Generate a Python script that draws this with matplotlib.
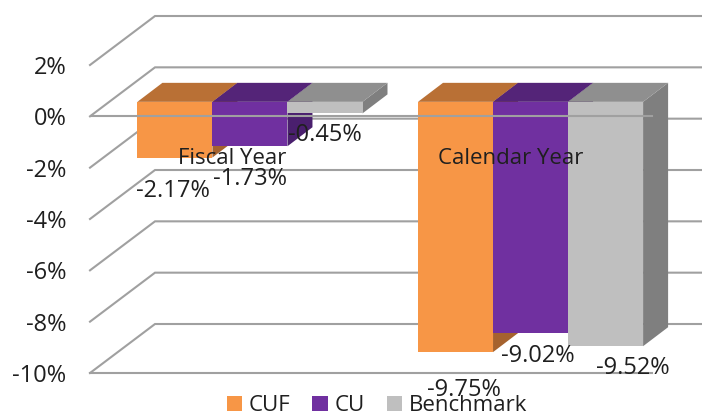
#!/usr/bin/env python

import matplotlib
matplotlib.use('Agg')
import matplotlib.pyplot as plt
import numpy as np

# data to plot
categories = ['Fiscal Year', 'Calendar Year']
series_names = ['CUF', 'CU', 'Benchmark']
cuf = [-2.17, -9.75]
cu = [-1.73, -9.02]
benchmark = [-0.45, -9.52]
y_ticks = [2, 0, -2, -4, -6, -8, -10]

# front, top and side shade of each series
front_colors = ['#F79646', '#7030A0', '#BFBFBF']
top_colors = ['#B97035', '#542478', '#8F8F8F']
side_colors = ['#A5622E', '#4A1F6E', '#7F7F7F']
grid_color = '#A0A0A0'
text_color = '#1F1F1F'
font = 'Open Sans'

# fake 3d depth, in data units
wall_dx, wall_dy = 0.2317, 1.909
bar_dx, bar_dy = 0.0891, 0.74
bar_lift = 0.565
bar_width = 0.2674
right_end = 1.433

plt.rcParams['font.family'] = font
fig = plt.figure(figsize=(7.02, 4.13), dpi=100)
ax = fig.add_axes([90 / 702, 40 / 413, 612 / 702, 308 / 413])
ax.set_xlim(-0.570, 1.611)
ax.set_ylim(-10, 2)
for s in ax.spines.values():
    s.set_visible(False)

# walls
x0 = -0.570
for v in y_ticks:
    ax.plot([x0, x0 + wall_dx, 1.7], [v, v + wall_dy, v + wall_dy], color=grid_color,
            lw=1.5, clip_on=False, zorder=1, solid_joinstyle='miter')
ax.plot([x0, right_end], [-10, -10], color=grid_color, lw=1.5, clip_on=False, zorder=1)

# bars
index = np.arange(len(categories))
all_values = [cuf, cu, benchmark]
handles = []
for i, values in enumerate(all_values):
    xs = index + (i - 1) * bar_width
    for x, v in zip(xs, values):
        left, right = x - bar_width / 2, x + bar_width / 2
        ax.fill([right, right + bar_dx, right + bar_dx, right],
                [bar_lift, bar_lift + bar_dy, bar_lift + bar_dy + v, bar_lift + v],
                color=side_colors[i], lw=0, zorder=2 + i, clip_on=False)
        ax.fill([left, left + bar_dx, right + bar_dx, right],
                [bar_lift, bar_lift + bar_dy, bar_lift + bar_dy, bar_lift],
                color=top_colors[i], lw=0, zorder=2 + i, clip_on=False)
    rects = ax.bar(xs, values, bar_width, bottom=bar_lift, color=front_colors[i],
                   label=series_names[i], zorder=2 + i)
    handles.append(rects)

# front edge of the zero plane goes over the bars
ax.plot([x0, right_end], [0, 0], color=grid_color, lw=1.5, zorder=8)

# data labels
label_offsets = [[(-1.5, -33), (8.5, -38)], [(0, -33), (7.5, -23)], [(0, -22), (27.5, -22)]]
for i, values in enumerate(all_values):
    for j, v in enumerate(values):
        ax.annotate('%.2f%%' % v, xy=(j + (i - 1) * bar_width, v + bar_lift),
                    xytext=label_offsets[i][j], textcoords='offset pixels', ha='center',
                    va='center', fontsize=17, color=text_color, zorder=10,
                    annotation_clip=False)

# category labels sit on top of the bars
cat_offsets = [(-18, -42), (-19.5, -42)]
for j, name in enumerate(categories):
    ax.annotate(name, xy=(j, 0), xytext=cat_offsets[j], textcoords='offset pixels',
                ha='center', va='center', fontsize=16, color=text_color, zorder=10)

ax.set_xticks([])
ax.set_yticks(y_ticks)
ax.set_yticklabels(['%d%%' % v for v in y_ticks], fontsize=17, color=text_color)
ax.tick_params(axis='y', length=0, pad=17)

fig.legend(handles=handles, loc='lower left', bbox_to_anchor=(209 / 702, -21 / 413), ncol=3,
           frameon=False, fontsize=16, labelcolor=text_color, handlelength=0.68, handleheight=0.68,
           handletextpad=0.3, columnspacing=1.0, borderpad=0.3)

plt.savefig('out.png', dpi=100)
